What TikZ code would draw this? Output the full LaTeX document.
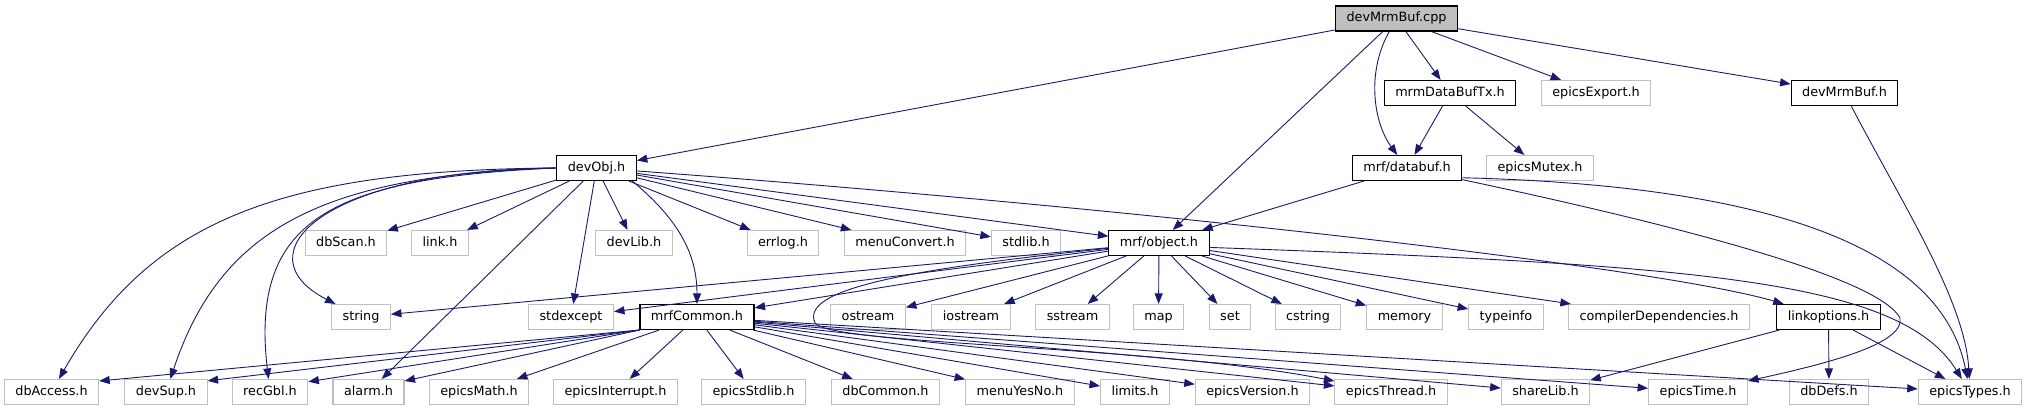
\documentclass[tikz,border=0pt]{standalone}
\usepackage{fontspec}
\setmainfont{DejaVu Sans}
\usepackage{tikz}
\usetikzlibrary{arrows.meta}
\definecolor{edgeblue}{RGB}{25,25,112}
\definecolor{boxgrey}{RGB}{191,191,191}
\tikzset{
  hdr/.style={draw=black, line width=1.1pt, fill=white, minimum height=25pt,
    inner xsep=11pt, inner ysep=0pt, text height=9.4pt, text depth=2.6pt,
    font=\fontsize{12.8}{14}\selectfont},
  sys/.style={hdr, draw=boxgrey},
  rootfile/.style={hdr, fill=boxgrey},
  dep/.style={draw=edgeblue, line width=0.9pt, -{Triangle[length=10.5pt,width=8pt]}}
}

\begin{document}
\begin{tikzpicture}[x=1pt,y=-1pt]
  \useasboundingbox (0,0) rectangle (2028,411);
  \node [rootfile] (cpp) at (1396.5,18.5) {devMrmBuf.cpp};
  \node [hdr] (mrmtx) at (1450,93) {mrmDataBufTx.h};
  \node [sys] (export) at (1596,93) {epicsExport.h};
  \node [hdr] (devmrmh) at (1844.5,93) {devMrmBuf.h};
  \node [hdr] (devobj) at (596.5,168) {devObj.h};
  \node [hdr] (databuf) at (1407,168) {mrf/databuf.h};
  \node [sys] (mutex) at (1540,168) {epicsMutex.h};
  \node [sys] (dbscan) at (346,243) {dbScan.h};
  \node [sys] (link) at (440,243) {link.h};
  \node [sys] (devlib) at (634,243) {devLib.h};
  \node [sys] (errlog) at (783,243) {errlog.h};
  \node [sys] (menuconv) at (905,243) {menuConvert.h};
  \node [sys] (stdlib) at (1026,243) {stdlib.h};
  \node [hdr] (object) at (1159,243) {mrf/object.h};
  \node [sys] (string) at (361,317) {string};
  \node [sys] (stdexcept) at (571,317) {stdexcept};
  \node [hdr] (mrfc) at (697,317) {mrfCommon.h};
  \node [sys] (ostream) at (868,317) {ostream};
  \node [sys] (iostream) at (971,317) {iostream};
  \node [sys] (sstream) at (1072.5,317) {sstream};
  \node [sys] (map) at (1158.5,317) {map};
  \node [sys] (set) at (1230,317) {set};
  \node [sys] (cstring) at (1308,317) {cstring};
  \node [sys] (memory) at (1404.5,317) {memory};
  \node [sys] (typeinfo) at (1506,317) {typeinfo};
  \node [sys] (compdep) at (1659,317) {compilerDependencies.h};
  \node [hdr] (linkopt) at (1828.5,317) {linkoptions.h};
  \node [sys] (dbaccess) at (51.5,392) {dbAccess.h};
  \node [sys] (devsup) at (166,392) {devSup.h};
  \node [sys] (recgbl) at (270,392) {recGbl.h};
  \node [sys] (alarm) at (368.5,392) {alarm.h};
  \node [sys] (emath) at (479,392) {epicsMath.h};
  \node [sys] (interrupt) at (615.5,392) {epicsInterrupt.h};
  \node [sys] (estdlib) at (753.5,392) {epicsStdlib.h};
  \node [sys] (dbcommon) at (885.5,392) {dbCommon.h};
  \node [sys] (yesno) at (1020,392) {menuYesNo.h};
  \node [sys] (limits) at (1135,392) {limits.h};
  \node [sys] (version) at (1252.5,392) {epicsVersion.h};
  \node [sys] (thread) at (1391,392) {epicsThread.h};
  \node [sys] (sharelib) at (1545.5,392) {shareLib.h};
  \node [sys] (etime) at (1698,392) {epicsTime.h};
  \node [sys] (dbdefs) at (1829,392) {dbDefs.h};
  \node [sys] (types) at (1970,392) {epicsTypes.h};
  % devMrmBuf.cpp
  \draw [dep] (cpp) -- (devobj);
  \draw [dep] (cpp) -- (object);
  \draw [dep] (cpp) .. controls (1365,75) and (1375,125) .. (databuf);
  \draw [dep] (cpp) -- (mrmtx);
  \draw [dep] (cpp) -- (export);
  \draw [dep] (cpp) -- (devmrmh);
  \draw [dep] (mrmtx) -- (databuf);
  \draw [dep] (mrmtx) -- (mutex);
  \draw [dep] (devmrmh) .. controls (1900,200) and (1965,300) .. (types);
  % mrf/databuf.h
  \draw [dep] (databuf) -- (object);
  \draw [dep] (databuf.-10) .. controls (1750,185) and (1940,240) .. (types);
  \draw [dep] (databuf) .. controls (1700,230) and (1880,280) .. (1900,318)
    .. controls (1905,345) and (1820,365) .. (etime);
  % devObj.h
  \draw [dep] (devobj.west) .. controls (280,170) and (150,220) .. (dbaccess);
  \draw [dep] (devobj.west) .. controls (320,175) and (220,230) .. (devsup);
  \draw [dep] (devobj.west) .. controls (330,178) and (250,220) .. (recgbl);
  \draw [dep] (devobj.west) .. controls (320,170) and (240,255) .. (string);
  \draw [dep] (devobj) -- (dbscan);
  \draw [dep] (devobj) -- (link);
  \draw [dep] (devobj) -- (alarm);
  \draw [dep] (devobj) -- (stdexcept);
  \draw [dep] (devobj) -- (devlib);
  \draw [dep] (devobj.-20) to [out=-40,in=90] (mrfc.north);
  \draw [dep] (devobj) -- (errlog);
  \draw [dep] (devobj) -- (menuconv);
  \draw [dep] (devobj) -- (stdlib);
  \draw [dep] (devobj) -- (object);
  \draw [dep] (devobj) .. controls (1100,205) and (1650,265) .. (linkopt);
  % mrf/object.h
  \draw [dep] (object) -- (string);
  \draw [dep] (object) -- (stdexcept);
  \draw [dep] (object) -- (mrfc);
  \draw [dep] (object) -- (ostream);
  \draw [dep] (object) -- (iostream);
  \draw [dep] (object) -- (sstream);
  \draw [dep] (object) -- (map);
  \draw [dep] (object) -- (set);
  \draw [dep] (object) -- (cstring);
  \draw [dep] (object) -- (memory);
  \draw [dep] (object) -- (typeinfo);
  \draw [dep] (object) -- (compdep);
  \draw [dep] (object.-5) .. controls (1700,265) and (1900,280) .. (types);
  \draw [dep] (object) .. controls (900,270) and (800,290) .. (815,323)
    .. controls (830,345) and (1150,345) .. (thread);
  % mrfCommon.h
  \draw [dep] (mrfc.south west) -- (dbaccess.13);
  \draw [dep] (mrfc.south west) -- (devsup.15);
  \draw [dep] (mrfc.south west) -- (recgbl.15);
  \draw [dep] (mrfc.south west) -- (alarm.17);
  \draw [dep] (mrfc) -- (emath);
  \draw [dep] (mrfc) -- (interrupt);
  \draw [dep] (mrfc) -- (estdlib);
  \draw [dep] (mrfc) -- (dbcommon);
  \draw [dep] (mrfc) -- (yesno);
  \draw [dep] (mrfc) -- (limits);
  \draw [dep] (mrfc) -- (version);
  \draw [dep] (mrfc) -- (thread);
  \draw [dep] (mrfc) -- (sharelib);
  \draw [dep] (mrfc) -- (etime);
  \draw [dep] (mrfc) -- (types);
  % linkoptions.h
  \draw [dep] (linkopt) -- (sharelib);
  \draw [dep] (linkopt) -- (dbdefs);
  \draw [dep] (linkopt) -- (types);
\end{tikzpicture}
\end{document}
